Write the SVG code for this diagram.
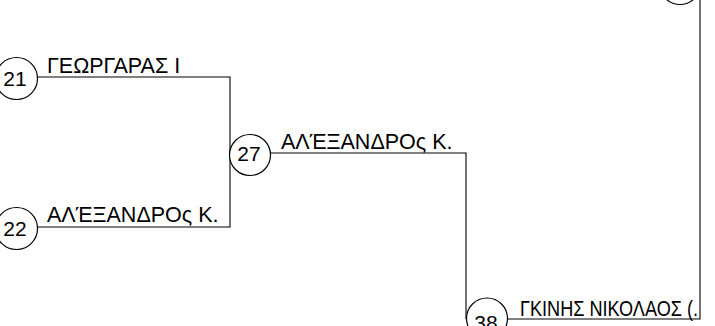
<svg xmlns="http://www.w3.org/2000/svg" width="715" height="326" viewBox="0 0 715 326">
<style>
.c{fill:#fff;stroke:#000;stroke-width:1.2}
.l{fill:none;stroke:#000;stroke-width:1.1}
.n{font-family:"Liberation Sans",Arial,sans-serif;font-size:21px;fill:#000;text-anchor:middle}
.t{font-family:"Liberation Sans",Arial,sans-serif;font-size:21.5px;fill:#000}
</style>
<rect width="715" height="326" fill="#fff"/>
<g id="connectors">
<path class="l" d="M37 77 H230 V227 H37"/>
<path class="l" d="M270 153 H466 V319"/>
<path class="l" d="M507 319 H700 V0"/>
</g>
<g id="node-21">
<circle class="c" cx="16.5" cy="78.5" r="21"/>
<text class="n" x="15" y="86">21</text>
<text class="t" x="47" y="73">ΓΕΩΡΓΑΡΑΣ Ι</text>
</g>
<g id="node-22">
<circle class="c" cx="16.5" cy="228.5" r="21"/>
<text class="n" x="15" y="236">22</text>
<text class="t" x="47" y="222">ΑΛΈΞΑΝΔΡΟς Κ.</text>
</g>
<g id="node-27">
<circle class="c" cx="250" cy="155" r="20.5"/>
<text class="n" x="249" y="161">27</text>
<text class="t" x="281" y="148.5">ΑΛΈΞΑΝΔΡΟς Κ.</text>
</g>
<g id="node-38">
<circle class="c" cx="487" cy="318.5" r="20.5"/>
<text class="n" x="486" y="330">38</text>
<text class="t" x="520" y="316" textLength="178" lengthAdjust="spacingAndGlyphs">ΓΚΙΝΗΣ ΝΙΚΟΛΑΟΣ (.</text>
</g>
<g id="node-top">
<circle class="c" cx="680" cy="-16" r="20.5"/>
</g>
</svg>
